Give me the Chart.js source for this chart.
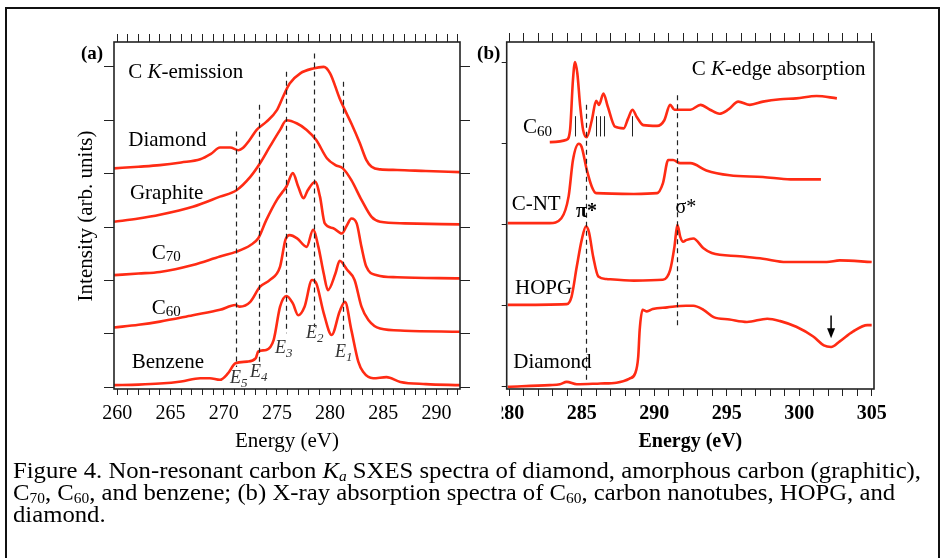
<!DOCTYPE html>
<html>
<head>
<meta charset="utf-8">
<script src="https://cdn.jsdelivr.net/npm/chart.js@4.4.1/dist/chart.umd.min.js"></script>
<style>
  html, body { margin: 0; padding: 0; background: #fff; }
  body { width: 943px; height: 558px; position: relative; overflow: hidden; }
  canvas { position: absolute; left: 0; top: 0; }
  #frame { position: absolute; left: 5px; top: 7px; width: 935px; height: 600px; border: 2px solid #111; box-sizing: border-box; }
  .cap { position: absolute; left: 13px; font-family: "Liberation Serif", "Times New Roman", serif; font-size: 24px; line-height: 22px; white-space: nowrap; transform-origin: 0 0; color: #000; }
  .cap sub { font-size: 15px; vertical-align: -3px; line-height: 0; }
</style>
</head>
<body>
<div id="frame"></div>
<canvas id="chartA" width="943" height="558"></canvas>
<canvas id="chartB" width="943" height="558"></canvas>
<div class="cap" id="cap1" style="top:459px">Figure 4. Non-resonant carbon <i>K<sub>a</sub></i> SXES spectra of diamond, amorphous carbon (graphitic),</div>
<div class="cap" id="cap2" style="top:481px">C<sub>70</sub>, C<sub>60</sub>, and benzene; (b) X-ray absorption spectra of C<sub>60</sub>, carbon nanotubes, HOPG, and</div>
<div class="cap" id="cap3" style="top:503px">diamond.</div>
<script>
// ---- (a) C K-emission spectra, offset by 1 unit each ----
const emDiamondE = [259.7, 262, 264, 266, 267.8, 268.8, 269.65, 270.6, 271.4, 271.8, 272.4, 273.1, 274.0, 275.0, 275.6, 276.2, 277.2, 278.4, 279.4, 280.0, 280.9, 281.4, 282.0, 282.8, 283.4, 283.9, 284.7, 286.3, 289, 292.2];
const emDiamondI = [4.10, 4.13, 4.16, 4.21, 4.27, 4.37, 4.49, 4.49, 4.44, 4.48, 4.62, 4.82, 4.97, 5.19, 5.45, 5.69, 5.88, 5.97, 6.00, 5.88, 5.41, 5.19, 4.94, 4.57, 4.26, 4.13, 4.08, 4.07, 4.05, 4.03];

const emGraphiteE = [259.7, 262, 264, 267.1, 269.65, 271.2, 272.5, 273.4, 274.35, 275.3, 275.9, 276.9, 277.8, 278.7, 279.7, 280.5, 281.2, 282.0, 282.95, 283.9, 284.7, 287, 292.2];
const emGraphiteI = [3.10, 3.16, 3.23, 3.38, 3.57, 3.69, 3.94, 4.19, 4.51, 4.82, 5.00, 4.94, 4.82, 4.63, 4.29, 4.16, 4.10, 3.88, 3.51, 3.19, 3.10, 3.07, 3.05];

const emC70E = [259.7, 262, 264, 267.1, 269.65, 271.2, 272.5, 273.25, 274.0, 275.0, 275.5, 275.9, 276.5, 277.0, 277.5, 277.9, 278.6, 279.05, 279.5, 280.3, 281.1, 281.6, 282.0, 282.5, 282.95, 283.4, 284.4, 286.3, 292.2];
const emC70I = [2.10, 2.13, 2.16, 2.29, 2.45, 2.54, 2.66, 2.79, 3.13, 3.51, 3.65, 3.76, 4.01, 3.76, 3.54, 3.69, 3.85, 3.57, 3.07, 2.98, 2.88, 3.04, 3.16, 3.07, 2.63, 2.26, 2.10, 2.06, 2.04];

const emC60E = [259.7, 262, 264, 267.1, 269.65, 271.1, 271.5, 272.5, 273.4, 274.35, 275.3, 275.8, 276.2, 276.9, 277.8, 278.4, 278.9, 279.4, 279.8, 280.5, 280.9, 281.6, 282.3, 282.95, 283.6, 284.7, 287, 292.2];
const emC60I = [1.12, 1.17, 1.23, 1.35, 1.45, 1.54, 1.51, 1.60, 1.88, 2.01, 2.26, 2.76, 2.85, 2.79, 2.63, 2.95, 2.63, 2.13, 1.82, 2.13, 2.37, 2.20, 2.01, 1.51, 1.26, 1.10, 1.06, 1.04];

const emBenzeneE = [259.7, 262, 264, 266, 267.8, 268.7, 269.65, 270.4, 271.1, 272.2, 273.0, 273.25, 274.0, 274.7, 275.3, 275.9, 276.5, 277.0, 277.6, 278.3, 278.7, 279.4, 280.15, 280.9, 281.4, 282.0, 282.65, 283.1, 284.05, 285.3, 286.6, 289, 292.2];
const emBenzeneI = [0.04, 0.05, 0.07, 0.11, 0.17, 0.17, 0.14, 0.26, 0.45, 0.48, 0.54, 0.67, 0.70, 0.89, 1.51, 1.71, 1.57, 1.35, 1.51, 2.01, 1.95, 1.39, 0.98, 1.42, 1.60, 1.07, 0.48, 0.29, 0.17, 0.19, 0.10, 0.06, 0.04];

// E5..E1 dashed markers: energy, top, bottom
const emMarkE = [271.15, 273.35, 275.83, 278.49, 281.18];
const emMarkTop = [4.79, 5.29, 5.91, 6.25, 5.72];
const emMarkBot = [0.38, 0.48, 1.01, 1.13, 0.85];

// ---- (b) C K-edge absorption spectra ----
const abC60E = [282.8, 283.97, 284.2, 284.4, 284.54, 284.7, 284.9, 285.1, 285.35, 285.7, 286.0, 286.2, 286.5, 286.8, 287.3, 287.9, 288.2, 288.5, 288.8, 289.25, 290.2, 290.7, 291.1, 291.4, 291.8, 292.5, 293.2, 293.85, 294.5, 295.1, 295.8, 296.6, 297.5, 298.7, 299.8, 301.2, 302.6];
const abC60I = [3.02, 3.05, 3.17, 3.79, 4.01, 3.87, 3.46, 3.17, 3.08, 3.29, 3.53, 3.48, 3.62, 3.46, 3.21, 3.19, 3.31, 3.42, 3.33, 3.23, 3.22, 3.29, 3.48, 3.42, 3.42, 3.42, 3.48, 3.42, 3.37, 3.42, 3.52, 3.48, 3.52, 3.55, 3.56, 3.59, 3.56];

const abCntE = [279.9, 282.8, 283.6, 284.1, 284.4, 284.8, 285.0, 285.35, 285.7, 286.0, 288.6, 290.2, 290.6, 290.97, 291.3, 291.8, 292.5, 293.6, 295.2, 297.5, 299.4, 301.5];
const abCntI = [2.02, 2.02, 2.08, 2.35, 2.80, 3.00, 2.96, 2.68, 2.47, 2.39, 2.38, 2.39, 2.51, 2.80, 2.80, 2.76, 2.76, 2.67, 2.61, 2.59, 2.56, 2.56];

const abHopgE = [279.9, 283.97, 284.3, 284.66, 285.0, 285.3, 285.5, 285.8, 286.15, 286.7, 288.6, 290.6, 291.1, 291.4, 291.6, 291.8, 292.0, 292.2, 292.7, 293.4, 293.97, 295.9, 297.5, 299.1, 301.9, 302.8, 305.0];
const abHopgI = [1.01, 1.02, 1.11, 1.48, 1.81, 1.98, 1.91, 1.60, 1.36, 1.33, 1.31, 1.32, 1.44, 1.73, 2.00, 1.85, 1.79, 1.81, 1.83, 1.71, 1.65, 1.61, 1.58, 1.54, 1.54, 1.56, 1.54];

const abDiamondE = [279.9, 282.8, 283.5, 283.97, 284.66, 286.3, 287.4, 288.3, 288.7, 288.9, 289.0, 289.2, 289.5, 289.9, 290.9, 292.2, 292.7, 293.4, 294.1, 295.2, 296.4, 297.8, 298.7, 299.8, 300.97, 301.7, 302.2, 302.8, 303.7, 304.7, 305.0];
const abDiamondI = [0.00, 0.02, 0.03, 0.06, 0.03, 0.04, 0.05, 0.10, 0.17, 0.37, 0.70, 0.95, 0.93, 0.96, 0.98, 1.00, 1.00, 0.95, 0.86, 0.83, 0.80, 0.84, 0.81, 0.74, 0.62, 0.51, 0.49, 0.56, 0.68, 0.76, 0.76];

// pi* and sigma* dashed lines, C60 resonance marks, diamond arrow
const abMarkE = [285.28, 291.57];
const abMarkTop = [3.48, 3.60];
const abMarkBot = [0.08, 0.72];
const c60PeakE = [284.54, 286.0, 286.27, 286.53, 288.5];
const c60PeakRange = [3.09, 3.34];
const arrowE = 302.2;
const arrowRange = [0.88, 0.60];

const RED = '#ff2b14';
const SERIF = '"Liberation Serif", "Times New Roman", serif';
const fN = '21px ' + SERIF, fI = 'italic 21px ' + SERIF, fS = '15px ' + SERIF;
const fEi = 'italic 18px ' + SERIF, fEs = 'italic 13px ' + SERIF;

function pts(xs, ys) {
  return xs.map((x, i) => ({ x: x, y: ys[i] }));
}

function curve(xs, ys) {
  return {
    data: pts(xs, ys),
    borderColor: RED,
    borderWidth: 2.6,
    pointRadius: 0,
    fill: false,
    cubicInterpolationMode: 'monotone'
  };
}

function xAxis(pos, min, max, tl, labels, font, pad, h) {
  return {
    type: 'linear', position: pos, min: min, max: max,
    grid: { drawOnChartArea: false, drawTicks: true, tickLength: tl, color: '#222', lineWidth: 1 },
    border: { display: false },
    ticks: {
      display: labels, stepSize: 1, autoSkip: false, includeBounds: false, maxRotation: 0,
      padding: pad, color: '#000', font: font,
      callback: v => (v % 5 === 0 ? String(v) : '')
    },
    afterFit: s => { s.height = h; }
  };
}

function yAxis(pos, min, max, tl) {
  return {
    type: 'linear', position: pos, min: min, max: max,
    grid: { drawOnChartArea: false, drawTicks: true, tickLength: tl, color: '#222', lineWidth: 1 },
    border: { display: false },
    ticks: { display: false, stepSize: 1, includeBounds: false },
    afterFit: s => { s.width = 15; }
  };
}

function drawParts(ctx, parts, x, y, align) {
  let w = 0;
  parts.forEach(p => { ctx.font = p[1]; w += ctx.measureText(p[0]).width; });
  let cx = align === 'center' ? x - w / 2 : x;
  ctx.textAlign = 'left';
  ctx.textBaseline = 'alphabetic';
  parts.forEach(p => {
    ctx.font = p[1];
    ctx.fillText(p[0], cx, y + (p[2] || 0));
    cx += ctx.measureText(p[0]).width;
  });
}

function dashed(ctx, sx, sy, e, top, bot) {
  ctx.save();
  ctx.strokeStyle = '#222';
  ctx.lineWidth = 1.2;
  ctx.setLineDash([5, 4]);
  ctx.beginPath();
  ctx.moveTo(Math.round(sx.getPixelForValue(e)) + 0.5, sy.getPixelForValue(top));
  ctx.lineTo(Math.round(sx.getPixelForValue(e)) + 0.5, sy.getPixelForValue(bot));
  ctx.stroke();
  ctx.restore();
}

function frameBox(ctx, a) {
  ctx.save();
  ctx.strokeStyle = '#222';
  ctx.lineWidth = 1.6;
  ctx.strokeRect(a.left, a.top, a.right - a.left, a.bottom - a.top);
  ctx.restore();
}

const labelsA = [
  { e: 261.03, u: 5.79, parts: [['C ', fN], ['K', fI], ['-emission', fN]] },
  { e: 261.03, u: 4.51, parts: [['Diamond', fN]] },
  { e: 261.19, u: 3.52, parts: [['Graphite', fN]] },
  { e: 263.23, u: 2.40, parts: [['C', fN], ['70', fS, 2]] },
  { e: 263.23, u: 1.37, parts: [['C', fN], ['60', fS, 2]] },
  { e: 261.35, u: 0.36, parts: [['Benzene', fN]] }
];
const eLabels = [
  { e: 270.59, u: 0.075, n: '5' },
  { e: 272.47, u: 0.20, n: '4' },
  { e: 274.82, u: 0.645, n: '3' },
  { e: 277.73, u: 0.92, n: '2' },
  { e: 280.46, u: 0.57, n: '1' }
];
const labelsB = [
  { e: 292.59, u: 3.85, parts: [['C ', fN], ['K', fI], ['-edge absorption', fN]] },
  { e: 280.95, u: 3.13, parts: [['C', fN], ['60', fS, 3]] },
  { e: 280.17, u: 2.18, parts: [['C-NT', fN]] },
  { e: 285.34, u: 2.09, parts: [['π*', 'bold 20px ' + SERIF]], align: 'center' },
  { e: 292.19, u: 2.15, parts: [['σ*', '20px ' + SERIF]], align: 'center' },
  { e: 280.40, u: 1.14, parts: [['HOPG', fN]] },
  { e: 280.28, u: 0.235, parts: [['Diamond', fN]] }
];

const panelA = {
  id: 'panelA',
  afterDraw(chart) {
    const ctx = chart.ctx, a = chart.chartArea;
    const sx = chart.scales.x, sy = chart.scales.y;
    frameBox(ctx, a);
    emMarkE.forEach((e, i) => dashed(ctx, sx, sy, e, emMarkTop[i], emMarkBot[i]));
    ctx.save();
    ctx.fillStyle = '#000';
    labelsA.forEach(l => drawParts(ctx, l.parts, sx.getPixelForValue(l.e), sy.getPixelForValue(l.u), l.align));
    ctx.fillStyle = '#333';
    eLabels.forEach(l => drawParts(ctx, [['E', fEi], [l.n, fEs, 4]], sx.getPixelForValue(l.e), sy.getPixelForValue(l.u)));
    ctx.fillStyle = '#000';
    drawParts(ctx, [['(a)', 'bold 19px ' + SERIF]], a.left - 22, a.top + 17, 'center');
    drawParts(ctx, [['Energy (eV)', '21px ' + SERIF]], (a.left + a.right) / 2, a.bottom + 58, 'center');
    ctx.translate(a.left - 22, 216);
    ctx.rotate(-Math.PI / 2);
    drawParts(ctx, [['Intensity (arb. units)', '21px ' + SERIF]], 0, 0, 'center');
    ctx.restore();
  }
};

const panelB = {
  id: 'panelB',
  afterDraw(chart) {
    const ctx = chart.ctx, a = chart.chartArea;
    const sx = chart.scales.x, sy = chart.scales.y;
    // the left part of the first tick label is cut off in the original
    ctx.save();
    ctx.fillStyle = '#fff';
    ctx.fillRect(a.left - 40, a.bottom + 9, 35, 30);
    ctx.restore();
    frameBox(ctx, a);
    abMarkE.forEach((e, i) => dashed(ctx, sx, sy, e, abMarkTop[i], abMarkBot[i]));
    ctx.save();
    ctx.strokeStyle = '#222';
    ctx.lineWidth = 1;
    c60PeakE.forEach(e => {
      const px = Math.round(sx.getPixelForValue(e)) + 0.5;
      ctx.beginPath();
      ctx.moveTo(px, sy.getPixelForValue(c60PeakRange[0]));
      ctx.lineTo(px, sy.getPixelForValue(c60PeakRange[1]));
      ctx.stroke();
    });
    // arrow on the diamond spectrum
    const ax = sx.getPixelForValue(arrowE);
    const ay0 = sy.getPixelForValue(arrowRange[0]), ay1 = sy.getPixelForValue(arrowRange[1]);
    ctx.lineWidth = 1.5;
    ctx.strokeStyle = '#000';
    ctx.beginPath();
    ctx.moveTo(ax, ay0);
    ctx.lineTo(ax, ay1 - 6);
    ctx.stroke();
    ctx.fillStyle = '#000';
    ctx.beginPath();
    ctx.moveTo(ax - 4, ay1 - 10);
    ctx.lineTo(ax + 4, ay1 - 10);
    ctx.lineTo(ax, ay1);
    ctx.closePath();
    ctx.fill();
    labelsB.forEach(l => drawParts(ctx, l.parts, sx.getPixelForValue(l.e), sy.getPixelForValue(l.u), l.align));
    drawParts(ctx, [['(b)', 'bold 19px ' + SERIF]], a.left - 18, a.top + 17, 'center');
    drawParts(ctx, [['Energy (eV)', 'bold 20px ' + SERIF]], (a.left + a.right) / 2, a.bottom + 58, 'center');
    ctx.restore();
  }
};

const xMinA = 259.69, xMaxA = 292.21, yMinA = -0.032, yMaxA = 6.466;
const xMinB = 279.83, xMaxB = 305.16, yMinB = -0.028, yMaxB = 4.256;

new Chart(document.getElementById('chartA'), {
  type: 'line',
  data: {
    datasets: [
      curve(emDiamondE, emDiamondI),
      curve(emGraphiteE, emGraphiteI),
      curve(emC70E, emC70I),
      curve(emC60E, emC60I),
      curve(emBenzeneE, emBenzeneI)
    ]
  },
  options: {
    responsive: false,
    animation: false,
    layout: { padding: { left: 99, top: 27, right: 468, bottom: 109 } },
    plugins: { legend: { display: false }, tooltip: { enabled: false } },
    scales: {
      x: xAxis('bottom', xMinA, xMaxA, 6, true, { family: SERIF, size: 20 }, 7, 60),
      x2: xAxis('top', xMinA, xMaxA, 8, false, { family: SERIF, size: 20 }, 0, 15),
      y: yAxis('left', yMinA, yMaxA, 10),
      y2: yAxis('right', yMinA, yMaxA, 10)
    }
  },
  plugins: [panelA]
});

new Chart(document.getElementById('chartB'), {
  type: 'line',
  data: {
    datasets: [
      curve(abC60E, abC60I),
      curve(abCntE, abCntI),
      curve(abHopgE, abHopgI),
      curve(abDiamondE, abDiamondI)
    ]
  },
  options: {
    responsive: false,
    animation: false,
    layout: { padding: { left: 491.7, top: 27, right: 69, bottom: 109 } },
    plugins: { legend: { display: false }, tooltip: { enabled: false } },
    scales: {
      x: xAxis('bottom', xMinB, xMaxB, 7, true, { family: SERIF, size: 20, weight: 'bold' }, 6, 60),
      x2: xAxis('top', xMinB, xMaxB, 9, false, { family: SERIF, size: 20 }, 0, 15),
      y: yAxis('left', yMinB, yMaxB, 5)
    }
  },
  plugins: [panelB]
});

// fit the caption lines to the width of the original text block
const cap1 = document.getElementById('cap1');
const s = 908 / cap1.getBoundingClientRect().width;
['cap1', 'cap2', 'cap3'].forEach(id => {
  document.getElementById(id).style.transform = 'scaleX(' + s + ')';
});
</script>
</body>
</html>
